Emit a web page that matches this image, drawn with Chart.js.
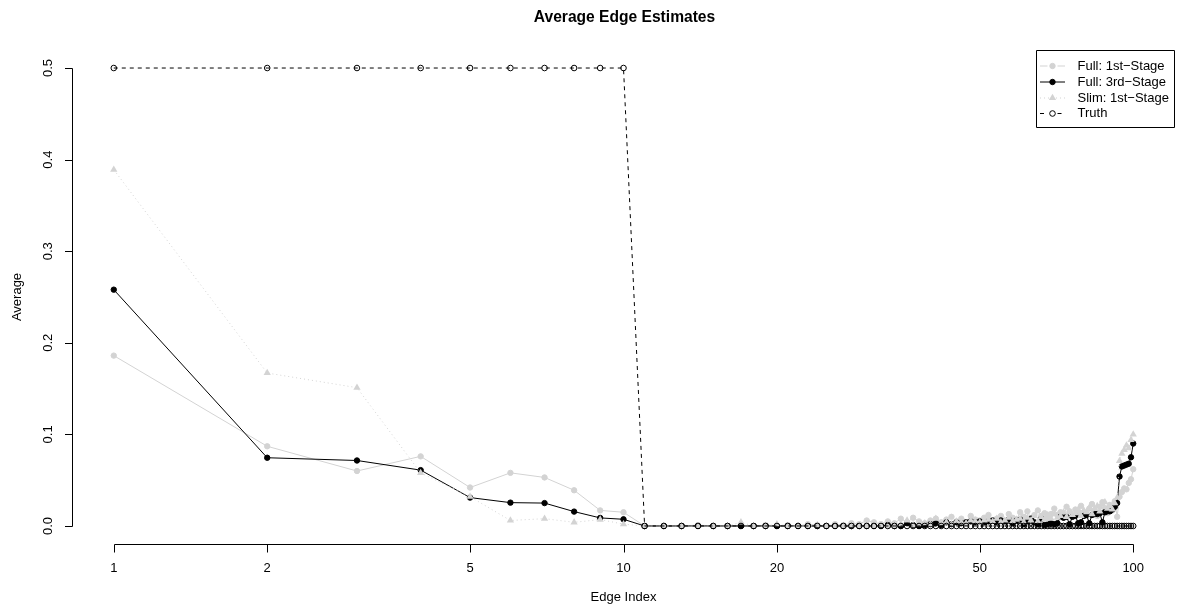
<!DOCTYPE html>
<html><head><meta charset="utf-8">
<script src="https://cdn.jsdelivr.net/npm/chart.js@4/dist/chart.umd.min.js"></script>
<style>html,body{margin:0;padding:0;background:#fff;}#wrap{width:1179px;height:609px;position:relative;}</style>
</head><body><div id="wrap"><canvas id="c" width="1179" height="609"></canvas></div>
<script>
const edges = [1,2,3,4,5,6,7,8,9,10,11,12,13,14,15,16,17,18,19,20,21,22,23,24,25,26,27,28,29,30,31,32,33,34,35,36,37,38,39,40,41,42,43,44,45,46,47,48,49,50,51,52,53,54,55,56,57,58,59,60,61,62,63,64,65,66,67,68,69,70,71,72,73,74,75,76,77,78,79,80,81,82,83,84,85,86,87,88,89,90,91,92,93,94,95,96,97,98,99,100];
const fullStage1 = [0.186,0.087,0.060,0.076,0.042,0.058,0.053,0.039,0.017,0.015,
 0.000,0.000,0.000,0.001,0.000,0.000,0.000,0.000,0.001,0.000,
 0.001,0.000,0.002,0.001,0.000,0.002,0.001,0.003,0.002,0.006,
 0.004,0.002,0.005,0.003,0.008,0.004,0.009,0.005,0.003,0.006,
 0.008,0.004,0.007,0.010,0.005,0.008,0.004,0.011,0.007,0.006,
 0.009,0.012,0.006,0.008,0.011,0.005,0.013,0.009,0.007,0.015,
 0.010,0.016,0.008,0.012,0.017,0.011,0.014,0.009,0.013,0.019,
 0.012,0.015,0.010,0.021,0.016,0.011,0.018,0.014,0.022,0.015,
 0.013,0.019,0.024,0.017,0.011,0.021,0.026,0.019,0.014,0.023,
 0.017,0.027,0.010,0.032,0.037,0.041,0.040,0.047,0.051,0.062];
const fullStage3 = [0.258,0.0745,0.0715,0.061,0.031,0.0255,0.025,0.0157,0.0088,0.0073,
 0,0,0,0,0,0,0,0,0,0,
 0,0,0,0,0,0,0,0,0,0,
 0,0,0.001,0,0,0.003,0.001,0,0.001,0.002,
 0.003,0.001,0.004,0.002,0.004,0.003,0.004,0.005,0.004,0.005,
 0.004,0.005,0.006,0.004,0.006,0.005,0.007,0.003,0.006,0.007,
 0.002,0.005,0.008,0.004,0.002,0.008,0.001,0.002,0.003,0.002,
 0.003,0.010,0.009,0.010,0.002,0.010,0.011,0.003,0.004,0.011,
 0.012,0.003,0.012,0.013,0.013,0.014,0.004,0.015,0.016,0.016,
 0.018,0.021,0.025,0.054,0.065,0.066,0.067,0.068,0.075,0.090];
const slimStage1 = [0.389,0.167,0.151,0.058,0.032,0.006,0.008,0.004,0.007,0.002,
 0,0,0,0,0,0,0.004,0,0,0.002,
 0,0,0,0.001,0,0,0,0.001,0,0,
 0,0.001,0,0,0.002,0.006,0.001,0.002,0.003,0.002,
 0.008,0.003,0.004,0.002,0.005,0.004,0.003,0.006,0.005,0.004,
 0.006,0.007,0.005,0.008,0.004,0.006,0.009,0.005,0.007,0.008,
 0.004,0.009,0.006,0.011,0.005,0.010,0.007,0.012,0.008,0.013,
 0.009,0.011,0.015,0.010,0.016,0.012,0.014,0.018,0.011,0.017,
 0.015,0.020,0.013,0.019,0.022,0.016,0.024,0.026,0.019,0.022,
 0.018,0.025,0.031,0.071,0.079,0.083,0.088,0.085,0.094,0.100];
const truth = [0.5,0.5,0.5,0.5,0.5,0.5,0.5,0.5,0.5,0.5,
 0,0,0,0,0,0,0,0,0,0, 0,0,0,0,0,0,0,0,0,0, 0,0,0,0,0,0,0,0,0,0,
 0,0,0,0,0,0,0,0,0,0, 0,0,0,0,0,0,0,0,0,0, 0,0,0,0,0,0,0,0,0,0,
 0,0,0,0,0,0,0,0,0,0, 0,0,0,0,0,0,0,0,0,0, 0,0,0,0,0,0,0,0,0,0];
const xTicks = [1,2,5,10,20,50,100];
const yTicks = [0,0.1,0.2,0.3,0.4,0.5];
const yTickLabels = ['0.0','0.1','0.2','0.3','0.4','0.5'];
const seriesNames = ['Full: 1st\u2212Stage','Full: 3rd\u2212Stage','Slim: 1st\u2212Stage','Truth'];
const titleText = 'Average Edge Estimates';
const xTitle = 'Edge Index';
const yTitle = 'Average';

const FONT = '"Liberation Sans", Arial, Helvetica, sans-serif';
const GRAY = '#d3d3d3';
const pts = arr => edges.map((e,i)=>({x:e,y:arr[i]}));

const datasets = [
  {label:seriesNames[0], data:pts(fullStage1), borderColor:GRAY, backgroundColor:GRAY, borderWidth:1,
   pointStyle:'circle', pointRadius:2.7, pointBorderWidth:1, pointBorderColor:GRAY, pointBackgroundColor:GRAY, order:3, gapLine:true},
  {label:seriesNames[1], data:pts(fullStage3), borderColor:'#000', backgroundColor:'#000', borderWidth:1,
   pointStyle:'circle', pointRadius:2.7, pointBorderWidth:1, pointBorderColor:'#000', pointBackgroundColor:'#000', order:2},
  {label:seriesNames[2], data:pts(slimStage1), borderColor:GRAY, backgroundColor:GRAY, borderWidth:1, borderDash:[1,3],
   pointStyle:'triangle', pointRadius:4.2, pointBorderWidth:0, pointBorderColor:GRAY, pointBackgroundColor:GRAY, order:1},
  {label:seriesNames[3], data:pts(truth), borderColor:'#000', backgroundColor:'rgba(0,0,0,0)', borderWidth:1, borderDash:[4,4],
   pointStyle:'circle', pointRadius:2.8, pointBorderWidth:1, pointBorderColor:'#000', pointBackgroundColor:'rgba(0,0,0,0)', order:0, gapLine:true}
];

const rDecor = {
  id:'rDecor',
  afterDraw(chart){
    const {ctx, chartArea:ca, scales:{x,y}} = chart;
    ctx.save();
    ctx.strokeStyle='#000'; ctx.fillStyle='#000'; ctx.lineWidth=1; ctx.setLineDash([]);
    // x axis
    const yb = Math.round(ca.bottom)+0.5;
    ctx.beginPath();
    ctx.moveTo(Math.round(x.getPixelForValue(xTicks[0]))+0.5, yb);
    ctx.lineTo(Math.round(x.getPixelForValue(xTicks[xTicks.length-1]))+0.5, yb);
    xTicks.forEach(v=>{const px=Math.round(x.getPixelForValue(v))+0.5; ctx.moveTo(px,yb); ctx.lineTo(px,yb+8);});
    // y axis
    const xl = Math.round(ca.left)-0.5;
    ctx.moveTo(xl, Math.round(y.getPixelForValue(yTicks[0]))+0.5);
    ctx.lineTo(xl, Math.round(y.getPixelForValue(yTicks[yTicks.length-1]))+0.5);
    yTicks.forEach(v=>{const py=Math.round(y.getPixelForValue(v))+0.5; ctx.moveTo(xl,py); ctx.lineTo(xl-7.5,py);});
    ctx.stroke();
    ctx.font = '13px '+FONT;
    ctx.textAlign='center'; ctx.textBaseline='middle';
    xTicks.forEach(v=>ctx.fillText(String(v), x.getPixelForValue(v), yb+23.5));
    ctx.fillText(xTitle, (ca.left+ca.right)/2, yb+53);
    yTicks.forEach((v,i)=>{
      ctx.save(); ctx.translate(xl-24.5, y.getPixelForValue(v)); ctx.rotate(-Math.PI/2);
      ctx.fillText(yTickLabels[i],0,0); ctx.restore();
    });
    ctx.save(); ctx.translate(17.5,(ca.top+ca.bottom)/2); ctx.rotate(-Math.PI/2);
    ctx.fillText(yTitle,0,0); ctx.restore();

    // legend
    const bx0 = 1036.5, bx1 = Math.round(ca.right)+0.5, by0 = Math.round(ca.top)+0.5, by1 = 127.5;
    ctx.beginPath(); ctx.rect(bx0,by0,bx1-bx0,by1-by0); ctx.stroke();
    const rowY = [66,82,98,113.5];
    const lx0 = 1040, lx1 = 1065, lm = 1052.5, tx = 1077.5;
    datasets.forEach((ds,i)=>{
      const yy = rowY[i];
      ctx.save();
      ctx.strokeStyle = ds.borderColor; ctx.lineWidth = ds.borderWidth;
      ctx.setLineDash(ds.borderDash || []);
      ctx.beginPath();
      if (ds.gapLine){ ctx.moveTo(lx0,yy); ctx.lineTo(lm-5,yy); ctx.moveTo(lm+5,yy); ctx.lineTo(lx1,yy); }
      else { ctx.moveTo(lx0,yy); ctx.lineTo(lx1,yy); }
      ctx.stroke();
      ctx.setLineDash([]);
      ctx.fillStyle = ds.pointBackgroundColor; ctx.strokeStyle = ds.pointBorderColor; ctx.lineWidth = ds.pointBorderWidth;
      Chart.helpers.drawPoint(ctx, {pointStyle:ds.pointStyle, radius:ds.pointRadius, borderWidth:ds.pointBorderWidth, rotation:0}, lm, yy);
      ctx.restore();
      ctx.fillStyle='#000'; ctx.textAlign='left'; ctx.textBaseline='middle';
      ctx.font = '13px '+FONT;
      ctx.fillText(ds.label, tx, yy);
    });
    ctx.restore();
  }
};

new Chart(document.getElementById('c'), {
  type:'line',
  data:{datasets},
  options:{
    responsive:false, animation:false, devicePixelRatio:1,
    parsing:true,
    layout:{padding:{left:73, right:3, top:0, bottom:64.7}},
    elements:{line:{tension:0}},
    scales:{
      x:{type:'logarithmic', display:false, min:Math.pow(10,-0.08), max:Math.pow(10,2.08)},
      y:{type:'linear', display:false, min:-0.02, max:0.52}
    },
    plugins:{
      legend:{display:false}, tooltip:{enabled:false},
      title:{display:true, text:titleText, color:'#000', font:{family:FONT, size:15.6, weight:'bold'}, padding:{top:8, bottom:22.98}}
    }
  },
  plugins:[rDecor]
});
</script></body></html>
